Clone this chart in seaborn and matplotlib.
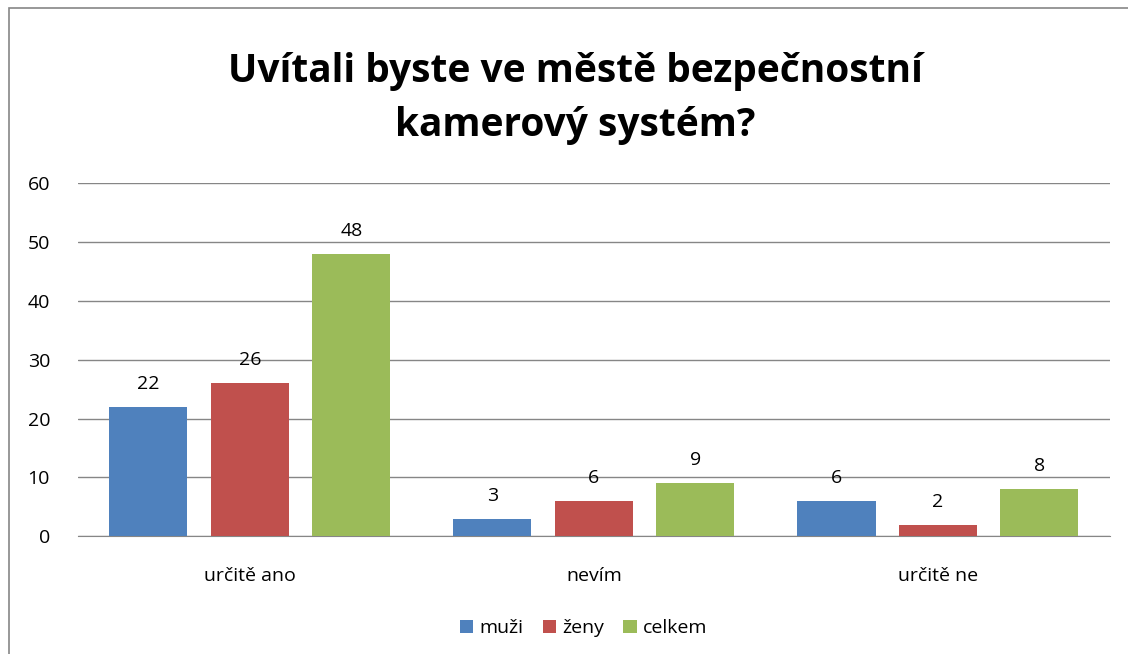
import pandas as pd
import numpy as np
import matplotlib.pyplot as plt
import seaborn as sns
from matplotlib.patches import Rectangle

# data
categories = ["určitě ano", "nevím", "určitě ne"]
muzi = [22, 3, 6]
zeny = [26, 6, 2]
celkem = [48, 9, 8]
series = ["muži", "ženy", "celkem"]
colors = ["#4F81BD", "#C0504D", "#9BBB59"]

df = pd.DataFrame({
    "kategorie": categories * 3,
    "skupina": [s for s in series for _ in categories],
    "pocet": muzi + zeny + celkem,
})

sns.set_style("white")
plt.rcParams["font.family"] = ["Open Sans", "DejaVu Sans"]
plt.rcParams["text.color"] = "black"
plt.rcParams["xtick.color"] = "black"
plt.rcParams["ytick.color"] = "black"

fig = plt.figure(figsize=(11.28, 6.54), dpi=100)
ax = fig.add_axes([0.069, 0.180, 0.915, 0.540])

sns.barplot(data=df, x="kategorie", y="pocet", hue="skupina", order=categories,
            hue_order=series, palette=colors, width=0.885, gap=0.23,
            saturation=1, ax=ax, zorder=3, edgecolor="none")

for cont in ax.containers:
    ax.bar_label(cont, fmt="%d", padding=10, fontsize=14, color="black")

ax.set_ylim(0, 60)
ax.set_yticks(range(0, 61, 10))
ax.yaxis.grid(True, color="#868686", linewidth=1, zorder=0)
ax.set_axisbelow(True)
for s in ["top", "right", "left"]:
    ax.spines[s].set_visible(False)
ax.spines["bottom"].set_color("#868686")
ax.tick_params(axis="y", labelsize=14, length=0, pad=20)
ax.tick_params(axis="x", labelsize=14, length=0, pad=22)
ax.set_xlabel("")
ax.set_ylabel("")
ax.set_xlim(-0.5, 2.5)

ax.legend(loc="upper center", bbox_to_anchor=(0.49, -0.185), ncol=3, frameon=False,
          fontsize=14, handlelength=0.7, handleheight=0.7, handletextpad=0.3,
          columnspacing=1.0)

fig.text(0.51, 0.85, "Uvítali byste ve městě bezpečnostní\nkamerový systém?",
         ha="center", va="center", fontsize=28, fontweight="bold",
         linespacing=1.5)

fig.patches.append(Rectangle((0.008, -0.01), 1.1, 0.998, transform=fig.transFigure,
                             fill=False, edgecolor="#868686", linewidth=1.2))

fig.savefig("out.png", dpi=100)
